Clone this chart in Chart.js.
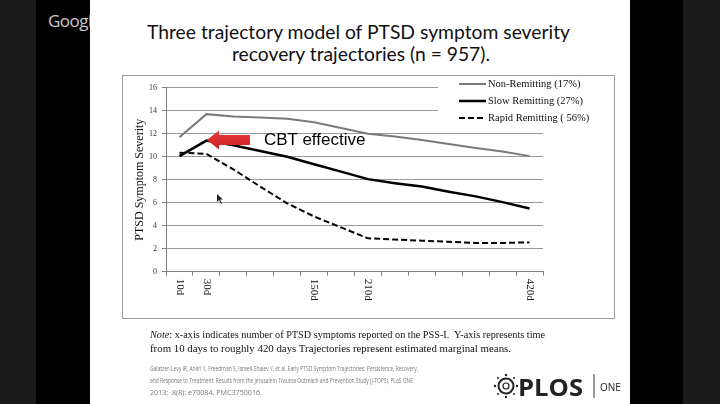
<!DOCTYPE html>
<html>
<head>
<meta charset="utf-8">
<script src="https://cdn.jsdelivr.net/npm/chart.js@4.4.0/dist/chart.umd.min.js"></script>
<style>
  body { margin: 0; width: 720px; height: 404px; background: #1b1b1b; position: relative; overflow: hidden; }
  .blk { position: absolute; top: 0; height: 404px; background: #000; }
  .slide { position: absolute; left: 90px; top: 0; width: 540px; height: 404px; background: #fff; }
  .t { position: absolute; white-space: nowrap; transform-origin: 0 0; line-height: 1; }
  .title { font-family: Lato, "Open Sans", sans-serif; font-size: 20px; color: #111; }
  .note { font-family: "Liberation Serif", serif; font-size: 11px; color: #111; }
  .cite { font-family: "Open Sans", sans-serif; font-size: 7.5px; color: #777; }
  #frame { position: absolute; left: 122px; top: 75px; width: 491px; height: 242px; border: 1px solid #9c9c9c; }
  #wrap { position: absolute; left: 123px; top: 76px; width: 490px; height: 241px; }
</style>
</head>
<body>
<div class="blk" style="left:36px;width:54px"></div>
<div class="blk" style="left:630px;width:53px"></div>
<div class="slide"></div>
<div class="t" style="left:48px;top:12px;font-family:'Open Sans',sans-serif;font-size:17px;letter-spacing:-0.5px;color:rgba(255,255,255,0.8)">Google</div>

<div class="t title" data-w="423" style="left:147px;top:21px">Three trajectory model of PTSD symptom severity</div>
<div class="t title" data-w="258" style="left:232px;top:43px">recovery trajectories (n = 957).</div>

<div id="frame"></div>
<div id="wrap"><canvas id="chart"></canvas></div>

<svg style="position:absolute;left:0;top:0" width="720" height="404">
  <defs>
    <linearGradient id="rg" x1="0" y1="0" x2="0" y2="1">
      <stop offset="0" stop-color="#ec3a3a"/>
      <stop offset="1" stop-color="#c81e22"/>
    </linearGradient>
  </defs>
  <polygon points="207,140 219,130.5 219,135 250,135 250,145 219,145 219,149.5" fill="url(#rg)"/>
  <polygon points="217,194 217,202 219,200 221,204 222,203.5 220,199.5 223,199.5" fill="#222"/>
  <!-- PLOS logo -->
  <circle cx="506" cy="386" r="7.5" fill="none" stroke="#222" stroke-width="2"/>
  <circle cx="506" cy="386" r="3" fill="none" stroke="#222" stroke-width="1.2"/>
  <circle cx="506" cy="375" r="1.2" fill="#222"/>
  <circle cx="506" cy="397" r="1.2" fill="#222"/>
  <circle cx="495" cy="386" r="1.2" fill="#222"/>
  <circle cx="517" cy="386" r="1.2" fill="#222"/>
  <circle cx="498" cy="378" r="1" fill="#222"/>
  <circle cx="514" cy="378" r="1" fill="#222"/>
  <circle cx="498" cy="394" r="1" fill="#222"/>
  <circle cx="514" cy="394" r="1" fill="#222"/>
  <line x1="594" y1="374" x2="594" y2="398" stroke="#333" stroke-width="1"/>
</svg>
<div class="t" style="left:264px;top:131px;font-family:'Liberation Sans',Arial,sans-serif;font-size:17px;color:#000">CBT effective</div>

<div class="t note" data-w="395" style="left:150px;top:329px"><i>Note</i>: x-axis indicates number of PTSD symptoms reported on the PSS-I.&nbsp; Y-axis represents time</div>
<div class="t note" data-w="361" style="left:150px;top:343px">from 10 days to roughly 420 days Trajectories represent estimated marginal means.</div>

<div class="t cite" data-w="268" style="left:150px;top:365px">Galatzer-Levy IR, Ankri Y, Freedman S, Israeli-Shalev Y, et al. Early PTSD Symptom Trajectories: Persistence, Recovery,</div>
<div class="t cite" data-w="263" style="left:150px;top:377px">and Response to Treatment: Results from the Jerusalem Trauma Outreach and Prevention Study (J-TOPS). PLoS ONE</div>
<div class="t cite" data-w="112" style="left:150px;top:389px">2013;&nbsp; 8(8): e70084. PMC3750016.</div>

<div class="t" data-w="65" style="left:518px;top:376px;font-family:'Open Sans',sans-serif;font-weight:700;font-size:23px;color:#222">PLOS</div>
<div class="t" style="left:600px;top:382px;font-family:'Open Sans',sans-serif;font-size:10px;color:#222">ONE</div>

<script>
// time points along the x axis (only some are labelled in the figure)
const categories = ['10d', '30d', '', '', '', '150d', '', '210d', '', '', '', '', '', '420d'];

const nonRemitting   = [11.7, 13.7, 13.5, 13.4, 13.3, 13.0, 12.5, 12.0, 11.75, 11.45, 11.1, 10.75, 10.45, 10.05];
const slowRemitting  = [10.05, 11.4, 11.0, 10.5, 10.0, 9.35, 8.7, 8.05, 7.7, 7.4, 6.95, 6.55, 6.05, 5.5];
const rapidRemitting = [10.35, 10.25, 8.9, 7.4, 5.95, 4.8, 3.85, 2.9, 2.8, 2.7, 2.6, 2.5, 2.5, 2.55];

const seriesNames = ['Non-Remitting (17%)', 'Slow Remitting (27%)', 'Rapid Remitting ( 56%)'];
const yTicks = [0, 2, 4, 6, 8, 10, 12, 14, 16];

// stretch slide texts to the widths seen in the picture
document.querySelectorAll('[data-w]').forEach(el => {
    let w = el.getBoundingClientRect().width;
    el.style.transform = `scaleX(${el.dataset.w / w})`;
});

const slideExtras = {
    id: 'slideExtras',
    beforeDatasetsDraw(chart) {
        // white box behind the legend hides the top grid lines
        let ctx = chart.ctx;
        ctx.save();
        ctx.fillStyle = '#fff';
        ctx.fillRect(315, 0, chart.width - 315, 50);
        ctx.restore();
    },
    afterDraw(chart) {
        let ctx = chart.ctx;
        let xs = chart.scales.x;
        let area = chart.chartArea;
        ctx.save();
        ctx.fillStyle = '#111';
        ctx.textAlign = 'left';
        ctx.textBaseline = 'middle';
        ctx.font = '11px "Liberation Serif"';
        categories.forEach((lab, i) => {
            if (!lab) return;
            ctx.save();
            ctx.translate(xs.getPixelForValue(i), area.bottom + 7);
            ctx.rotate(Math.PI / 2);
            ctx.fillText(lab, 0, 0);
            ctx.restore();
        });
        // legend
        ctx.font = '10.5px "Liberation Serif"';
        chart.data.datasets.forEach((ds, i) => {
            let y = 8 + i * 17;
            ctx.beginPath();
            ctx.setLineDash(ds.borderDash || []);
            ctx.strokeStyle = ds.borderColor;
            ctx.lineWidth = ds.borderWidth;
            ctx.moveTo(336, y);
            ctx.lineTo(363, y);
            ctx.stroke();
            ctx.setLineDash([]);
            ctx.fillText(ds.label, 365, y);
        });
        ctx.restore();
    }
};

Chart.defaults.font.family = '"Liberation Serif", serif';

new Chart(document.getElementById('chart'), {
    type: 'line',
    data: {
        labels: categories,
        datasets: [
            { label: seriesNames[0], data: nonRemitting, borderColor: '#7a7a7a', borderWidth: 2 },
            { label: seriesNames[1], data: slowRemitting, borderColor: '#000', borderWidth: 2.5 },
            { label: seriesNames[2], data: rapidRemitting, borderColor: '#000', borderWidth: 2, borderDash: [6, 3] }
        ]
    },
    options: {
        responsive: true,
        maintainAspectRatio: false,
        animation: false,
        elements: { point: { radius: 0 }, line: { tension: 0 } },
        layout: { padding: { left: 0, top: 11.7, right: 70, bottom: 0 } },
        plugins: { legend: { display: false }, tooltip: { enabled: false } },
        scales: {
            x: {
                type: 'category',
                offset: true,
                grid: { offset: true, drawOnChartArea: false, drawTicks: true, tickLength: 4, color: '#808080' },
                border: { color: '#808080' },
                ticks: { autoSkip: false, maxRotation: 0, callback: () => '' },
                afterFit: s => { s.height = 45.3; }
            },
            y: {
                min: 0,
                max: 16,
                afterBuildTicks: s => { s.ticks = yTicks.map(v => ({ value: v })); },
                grid: { color: '#9a9a9a', tickLength: 4, tickColor: '#808080' },
                border: { color: '#808080' },
                ticks: { font: { size: 8 }, color: '#333', padding: 5 },
                title: { display: true, text: 'PTSD Symptom Severity', font: { size: 12 }, color: '#111', padding: { top: 10 } },
                afterFit: s => { s.width = 43; }
            }
        }
    },
    plugins: [slideExtras]
});
</script>
</body>
</html>
